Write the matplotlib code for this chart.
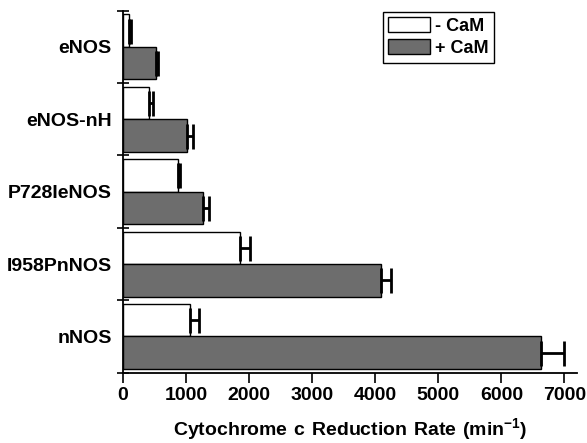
import matplotlib
matplotlib.use("Agg")
import matplotlib.pyplot as plt
from matplotlib.ticker import FixedLocator

plt.rcParams['font.family'] = ['Liberation Sans', 'DejaVu Sans']
plt.rcParams['font.weight'] = 'bold'
plt.rcParams['mathtext.fontset'] = 'custom'
plt.rcParams['mathtext.rm'] = 'Liberation Sans:bold'
plt.rcParams['mathtext.bf'] = 'Liberation Sans:bold'
plt.rcParams['mathtext.default'] = 'bf'

# data (top to bottom)
enzymes = ['eNOS', 'eNOS-nH', 'P728IeNOS', 'I958PnNOS', 'nNOS']
minus_cam = [100, 420, 870, 1860, 1070]
minus_err = [25, 50, 30, 160, 130]
plus_cam = [520, 1010, 1275, 4090, 6630]
plus_err = [30, 95, 85, 165, 370]

n = len(enzymes)
centers = [n - 1 - i for i in range(n)]
h = 0.45

fig = plt.figure(figsize=(5.87, 4.43), dpi=100)
ax = fig.add_axes([0.2095, 0.1587, 0.7735, 0.8172])

ekw = dict(elinewidth=2, capthick=2, capsize=9, ecolor='black')
ax.barh([c + h / 2 for c in centers], minus_cam, height=h, color='white',
        edgecolor='black', linewidth=1, label='- CaM',
        xerr=[[0] * n, minus_err], error_kw=ekw)
ax.barh([c - h / 2 for c in centers], plus_cam, height=h, color='#6d6d6d',
        edgecolor='black', linewidth=1, label='+ CaM',
        xerr=[[0] * n, plus_err], error_kw=ekw)

ax.set_xlim(0, 7200)
ax.set_ylim(-0.5, n - 0.5)
ax.set_xticks(range(0, 7001, 1000))
ax.set_yticks(centers)
ax.set_yticklabels(enzymes)
ax.yaxis.set_minor_locator(FixedLocator([i - 0.5 for i in range(n + 1)]))
ax.tick_params(axis='y', which='major', length=0, pad=8, labelsize=14)
ax.tick_params(axis='y', which='minor', length=8, width=1.2, direction='inout')
ax.tick_params(axis='x', which='major', length=7, width=1.2, direction='out', labelsize=14, pad=3)

for s in ['top', 'right']:
    ax.spines[s].set_visible(False)
for s in ['left', 'bottom']:
    ax.spines[s].set_linewidth(1.3)

ax.set_xlabel(r'$\mathbf{Cytochrome\ c\ Reduction\ Rate\ (min^{-1})}$', fontsize=14, labelpad=9)

leg = ax.legend(loc='upper left', bbox_to_anchor=(0.572, 0.997), fontsize=13,
                frameon=True, fancybox=False, edgecolor='black', framealpha=1,
                handlelength=2.3, handleheight=0.9, borderpad=0.3,
                labelspacing=0.25, handletextpad=0.3, borderaxespad=0)
leg.get_frame().set_linewidth(1)

fig.savefig('out.png', dpi=100)
